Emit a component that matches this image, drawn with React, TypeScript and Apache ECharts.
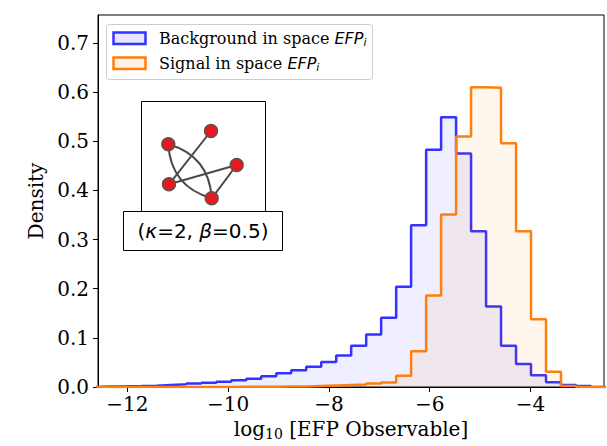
import React, { useEffect, useRef } from "react";
import * as echarts from "echarts";

// Histogram bin edges (log10 of EFP value), 34 equal-width bins
const binEdges = [
  -12.615, -12.318, -12.02, -11.723, -11.425, -11.128, -10.83, -10.533, -10.235, -9.938,
  -9.64, -9.343, -9.045, -8.748, -8.45, -8.153, -7.855, -7.558, -7.26, -6.963,
  -6.665, -6.368, -6.07, -5.773, -5.475, -5.178, -4.88, -4.583, -4.285, -3.988,
  -3.69, -3.393, -3.095, -2.798, -2.5,
];

// Density per bin: Background in space EFP_i
const backgroundDensity = [
  0.001, 0.0014, 0.002, 0.0027, 0.0041, 0.0054, 0.0071, 0.0088, 0.0108, 0.0135,
  0.0169, 0.022, 0.028, 0.034, 0.041, 0.051, 0.064, 0.084, 0.107, 0.141,
  0.204, 0.329, 0.483, 0.549, 0.475, 0.317, 0.164, 0.084, 0.047, 0.024,
  0.0095, 0.004, 0.002, 0,
];

// Density per bin: Signal in space EFP_i
const signalDensity = [
  0, 0, 0, 0, 0, 0, 0, 0, 0, 0.0003,
  0.0005, 0.0007, 0.0009, 0.001, 0.002, 0.003, 0.004, 0.005, 0.007, 0.009,
  0.023, 0.073, 0.186, 0.351, 0.51, 0.61, 0.609, 0.496, 0.317, 0.138,
  0.031, 0.002, 0, 0,
];

const xTicks = [-12, -10, -8, -6, -4];
const yTicks = [0, 0.1, 0.2, 0.3, 0.4, 0.5, 0.6, 0.7];

const X_MIN = -12.584;
const X_MAX = -2.539;
const Y_MAX = 0.757;

const BLUE = "#3333ff";
const BLUE_FILL = "rgba(0,0,255,0.09)";
const ORANGE = "#ff7f0e";
const ORANGE_FILL = "rgba(255,127,14,0.1)";

const SERIF = "DejaVu Serif";
const SANS = "DejaVu Sans";

function stepData(edges: number[], vals: number[]): number[][] {
  const d: number[][] = [[edges[0], 0]];
  vals.forEach((v, i) => d.push([edges[i], v]));
  d.push([edges[edges.length - 1], vals[vals.length - 1]]);
  d.push([edges[edges.length - 1], 0]);
  return d;
}

function legendRich() {
  return {
    s: { fontFamily: SERIF, fontSize: 16, fill: "#000", lineHeight: 20 },
    m: { fontFamily: SANS, fontStyle: "italic", fontSize: 16, fill: "#000", lineHeight: 20 },
    sub: {
      fontFamily: SANS,
      fontStyle: "italic",
      fontSize: 11,
      fill: "#000",
      lineHeight: 12,
      verticalAlign: "bottom",
    },
  };
}

export default function App() {
  const ref = useRef<HTMLDivElement>(null);

  useEffect(() => {
    if (!ref.current) return;
    const chart = echarts.init(ref.current, undefined, { renderer: "svg" });

    // inset graph nodes (decorative illustration)
    const A = [168.3, 144.3];
    const B = [211, 131];
    const C = [236.7, 165];
    const D = [169, 184.3];
    const E = [211.7, 198.3];
    const edgeStyle = { stroke: "#4a4a4a", lineWidth: 2, fill: null };
    const node = (p: number[]) => ({
      type: "circle",
      shape: { cx: p[0], cy: p[1], r: 6.5 },
      style: { fill: "#e41a1c", stroke: "#555", lineWidth: 1.3 },
      z: 102,
    });

    const option: any = {
      animation: false,
      backgroundColor: "#fff",
      grid: {
        left: 98,
        right: 3,
        top: 15,
        bottom: 58,
        show: true,
        borderColor: "#000",
        borderWidth: 1,
        backgroundColor: "transparent",
      },
      xAxis: {
        type: "value",
        min: X_MIN,
        max: X_MAX,
        axisLine: { show: true, onZero: false, lineStyle: { color: "#000", width: 1 } },
        axisTick: { show: true, length: 5, customValues: xTicks, lineStyle: { color: "#000" } },
        axisLabel: {
          customValues: xTicks,
          formatter: (v: number) => (v < 0 ? "\u2212" : "") + Math.abs(v),
          fontFamily: SERIF,
          fontSize: 20,
          color: "#000",
          margin: 7,
        },
        splitLine: { show: false },
        name: "{a|log}{b|10}{a| [EFP Observable]}",
        nameLocation: "middle",
        nameGap: 30,
        nameTextStyle: {
          rich: {
            a: { fontFamily: SERIF, fontSize: 20, color: "#000", lineHeight: 24 },
            b: { fontFamily: SERIF, fontSize: 14, color: "#000", lineHeight: 14, verticalAlign: "bottom" },
          },
        },
      },
      yAxis: {
        type: "value",
        min: 0,
        max: Y_MAX,
        axisLine: { show: true, lineStyle: { color: "#000", width: 1 } },
        axisTick: { show: true, length: 5, customValues: yTicks, lineStyle: { color: "#000" } },
        axisLabel: {
          customValues: yTicks,
          formatter: (v: number) => v.toFixed(1),
          fontFamily: SERIF,
          fontSize: 20,
          color: "#000",
          margin: 9,
        },
        splitLine: { show: false },
        name: "Density",
        nameLocation: "middle",
        nameGap: 52,
        nameTextStyle: { fontFamily: SERIF, fontSize: 20, color: "#000" },
      },
      series: [
        {
          name: "Background",
          type: "line",
          step: "end",
          showSymbol: false,
          data: stepData(binEdges, backgroundDensity),
          lineStyle: { color: BLUE, width: 2.5 },
          itemStyle: { color: BLUE },
          areaStyle: { color: BLUE_FILL, origin: "start" },
          z: 2,
        },
        {
          name: "Signal",
          type: "line",
          step: "end",
          showSymbol: false,
          data: stepData(binEdges, signalDensity),
          lineStyle: { color: ORANGE, width: 2.5 },
          itemStyle: { color: ORANGE },
          areaStyle: { color: ORANGE_FILL, origin: "start" },
          z: 3,
        },
      ],
      graphic: [
        // legend
        {
          type: "rect",
          shape: { x: 106.5, y: 24.5, width: 266, height: 55, r: 3 },
          style: { fill: "rgba(255,255,255,0.85)", stroke: "#cccccc", lineWidth: 1 },
          z: 100,
        },
        {
          type: "rect",
          shape: { x: 113.5, y: 32.5, width: 32, height: 11.5 },
          style: { fill: "#e6e6ff", stroke: BLUE, lineWidth: 2.5 },
          z: 101,
        },
        {
          type: "rect",
          shape: { x: 113.5, y: 57.5, width: 32, height: 11.5 },
          style: { fill: "#fff2e7", stroke: ORANGE, lineWidth: 2.5 },
          z: 101,
        },
        {
          type: "text",
          x: 159,
          y: 38,
          style: {
            text: "{s|Background in space }{m|EFP}{sub|i}",
            rich: legendRich(),
            verticalAlign: "middle",
            textVerticalAlign: "middle",
          },
          z: 101,
        },
        {
          type: "text",
          x: 159,
          y: 63,
          style: {
            text: "{s|Signal in space }{m|EFP}{sub|i}",
            rich: legendRich(),
            verticalAlign: "middle",
            textVerticalAlign: "middle",
          },
          z: 101,
        },
        // inset image box
        {
          type: "rect",
          shape: { x: 141.5, y: 101.5, width: 124, height: 110 },
          style: { fill: "#fff", stroke: "#000", lineWidth: 1 },
          z: 100,
        },
        {
          type: "bezierCurve",
          shape: { x1: A[0], y1: A[1], x2: E[0], y2: E[1], cpx1: 209.2, cpy1: 155.9 },
          style: edgeStyle,
          z: 101,
        },
        {
          type: "bezierCurve",
          shape: { x1: A[0], y1: A[1], x2: E[0], y2: E[1], cpx1: 170.8, cpy1: 186.7 },
          style: edgeStyle,
          z: 101,
        },
        { type: "line", shape: { x1: B[0], y1: B[1], x2: D[0], y2: D[1] }, style: edgeStyle, z: 101 },
        { type: "line", shape: { x1: D[0], y1: D[1], x2: C[0], y2: C[1] }, style: edgeStyle, z: 101 },
        { type: "line", shape: { x1: C[0], y1: C[1], x2: E[0], y2: E[1] }, style: edgeStyle, z: 101 },
        node(A),
        node(B),
        node(C),
        node(D),
        node(E),
        // inset label box
        {
          type: "rect",
          shape: { x: 123.5, y: 211.5, width: 159, height: 39 },
          style: { fill: "#fff", stroke: "#000", lineWidth: 1 },
          z: 103,
        },
        {
          type: "text",
          x: 203,
          y: 231,
          style: {
            text: "{n|(}{m|\u03ba}{n|=2, }{m|\u03b2}{n|=0.5)}",
            rich: {
              n: { fontFamily: SANS, fontSize: 20, fill: "#000" },
              m: { fontFamily: SANS, fontStyle: "italic", fontSize: 20, fill: "#000" },
            },
            align: "center",
            textAlign: "center",
            verticalAlign: "middle",
            textVerticalAlign: "middle",
          },
          z: 104,
        },
      ],
    };

    chart.setOption(option);
    return () => chart.dispose();
  }, []);

  return <div ref={ref} style={{ width: 607, height: 446, position: "absolute", left: 0, top: 0 }} />;
}
